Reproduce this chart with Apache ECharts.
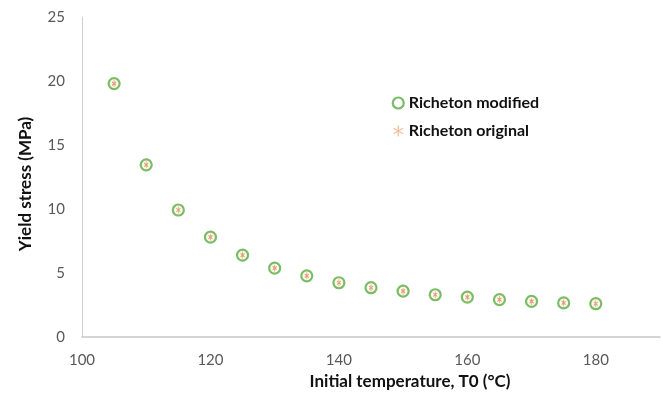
<!DOCTYPE html>
<html>
<head>
<meta charset="utf-8">
<script src="https://cdn.jsdelivr.net/npm/echarts@6/dist/echarts.min.js"></script>
<style>
html,body{margin:0;padding:0;background:#fff;}
#c{width:663px;height:408px;}
</style>
</head>
<body>
<div id="c"></div>
<script>
var temperatures = [105,110,115,120,125,130,135,140,145,150,155,160,165,170,175,180];
var modifiedStress = [19.8,13.45,9.92,7.8,6.4,5.38,4.78,4.24,3.85,3.58,3.3,3.12,2.92,2.78,2.66,2.6];
var originalStress = [19.8,13.45,9.92,7.8,6.4,5.38,4.78,4.24,3.85,3.58,3.3,3.12,2.92,2.78,2.66,2.6];
var seriesNames = ['Richeton modified','Richeton original'];
var xTitle = 'Initial temperature, T0 (°C)';
var yTitle = 'Yield stress (MPa)';

function pairs(xs, ys){ return xs.map(function(x,i){ return [x, ys[i]]; }); }

var asterisk = 'path://M0,-10 L0,10 M-8.66,-5 L8.66,5 M-8.66,5 L8.66,-5';
var font = 'Lato, "Open Sans", sans-serif';

var chart = echarts.init(document.getElementById('c'), null, {renderer:'canvas'});
chart.setOption({
  animation:false,
  backgroundColor:'#ffffff',
  grid:{left:82, top:17, right:-2, bottom:71, containLabel:false},
  xAxis:{
    type:'value', min:100, max:190, interval:20,
    axisLine:{show:true, lineStyle:{color:'#c8c8c8', width:1.5}},
    axisTick:{show:false},
    splitLine:{show:false},
    axisLabel:{color:'#595959', fontSize:15, fontFamily:font, margin:16,
      formatter:function(v){ return v>=190 ? '' : v; }}
  },
  yAxis:{
    type:'value', min:0, max:25, interval:5,
    axisLine:{show:true, lineStyle:{color:'#d0d0d0', width:1}},
    axisTick:{show:false},
    splitLine:{show:false},
    axisLabel:{color:'#595959', fontSize:15, fontFamily:font, margin:17}
  },
  legend:{
    orient:'vertical', left:391, top:95, itemGap:12, padding:0,
    itemWidth:11, itemHeight:11,
    textStyle:{color:'#111', fontSize:16, fontWeight:'bold', fontFamily:font},
    data:[
      {name:seriesNames[0], icon:'circle', itemStyle:{color:'#ffffff', borderColor:'#5aab45', borderWidth:2.2}},
      {name:seriesNames[1], icon:asterisk, itemStyle:{color:'none', borderColor:'#f0b080', borderWidth:1.3}}
    ]
  },
  graphic:[
    {type:'text', x:410, y:382, style:{text:xTitle, font:'bold 17px '+font, fill:'#111', textAlign:'center', textVerticalAlign:'middle'}},
    {type:'text', x:26, y:184, rotation:Math.PI/2, style:{text:yTitle, font:'bold 17px '+font, fill:'#111', textAlign:'center', textVerticalAlign:'middle'}}
  ],
  series:[
    {
      name:seriesNames[0], type:'scatter',
      data:pairs(temperatures, modifiedStress),
      symbol:'circle', symbolSize:11,
      itemStyle:{color:'#fdfbe8', borderColor:'#5aab45', borderWidth:2.2},
      z:2
    },
    {
      name:seriesNames[1], type:'scatter',
      data:pairs(temperatures, originalStress),
      symbol:asterisk, symbolSize:[4,7],
      itemStyle:{color:'none', borderColor:'#d9865a', borderWidth:1},
      z:3
    }
  ]
});
</script>
</body>
</html>
